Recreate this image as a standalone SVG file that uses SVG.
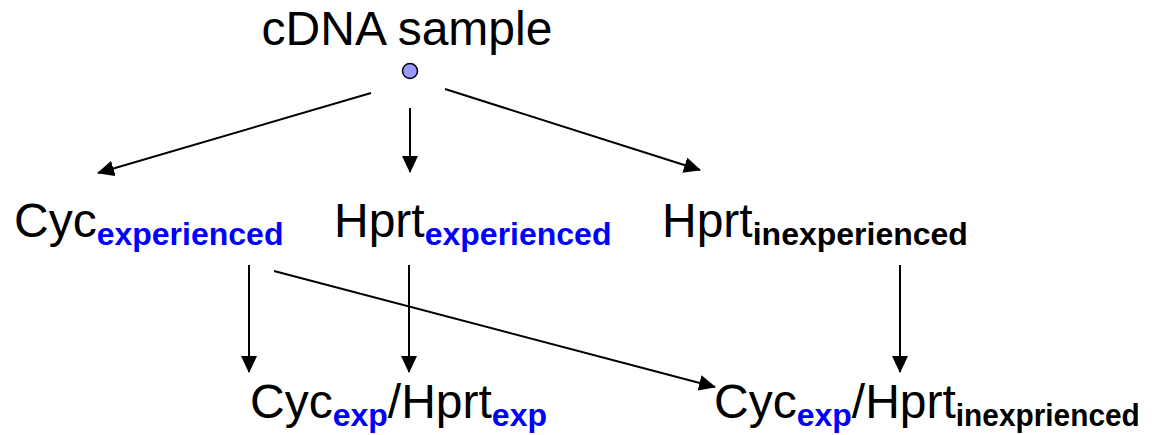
<svg xmlns="http://www.w3.org/2000/svg" width="1159" height="435" viewBox="0 0 1159 435">
<style>
.t{font-family:"Liberation Sans",Arial,sans-serif;font-size:48px;fill:#000}
.s{font-family:"Liberation Sans",Arial,sans-serif;font-size:32px;font-weight:bold}
.b{fill:#0000ff}
.k{fill:#000}
.c{stroke:#000;stroke-width:2;fill:none;marker-end:url(#ah)}
</style>
<defs>
<marker id="ah" markerWidth="8.5" markerHeight="8" refX="8" refY="4" orient="auto" markerUnits="strokeWidth">
<path d="M0,0 L8.5,4 L0,8 Z" fill="#000"/>
</marker>
</defs>
<rect width="1159" height="435" fill="#fff"/>
<g id="connectors">
<line class="c" x1="371" y1="93" x2="98" y2="173"/>
<line class="c" x1="410" y1="108" x2="410" y2="172"/>
<line class="c" x1="445" y1="89" x2="700" y2="170"/>
<line class="c" x1="249" y1="265" x2="249" y2="372"/>
<line class="c" x1="409" y1="265" x2="409" y2="372"/>
<line class="c" x1="274" y1="271" x2="715" y2="387"/>
<line class="c" x1="900" y1="265" x2="900" y2="372"/>
</g>
<g id="cdna">
<text class="t" x="407" y="45" text-anchor="middle">cDNA sample</text>
<circle cx="410" cy="71" r="7.5" fill="#9999ff" stroke="#000" stroke-width="1.5"/>
</g>
<g id="cyc_exp">
<text class="t" x="14" y="237">Cyc<tspan class="s b" dy="8">experienced</tspan></text>
</g>
<g id="hprt_exp">
<text class="t" x="334" y="237">Hprt<tspan class="s b" dy="8">experienced</tspan></text>
</g>
<g id="hprt_inexp">
<text class="t" x="662" y="237">Hprt<tspan class="s k" dy="8">inexperienced</tspan></text>
</g>
<g id="ratio_exp">
<text class="t" x="250" y="418">Cyc<tspan class="s b" dy="8">exp</tspan><tspan dy="-8">/Hprt</tspan><tspan class="s b" dy="8">exp</tspan></text>
</g>
<g id="ratio_inexp">
<text class="t" x="714" y="418">Cyc<tspan class="s b" dy="8">exp</tspan><tspan dy="-8">/Hprt</tspan><tspan class="s k" dy="8" textLength="184" lengthAdjust="spacingAndGlyphs">inexprienced</tspan></text>
</g>
</svg>
